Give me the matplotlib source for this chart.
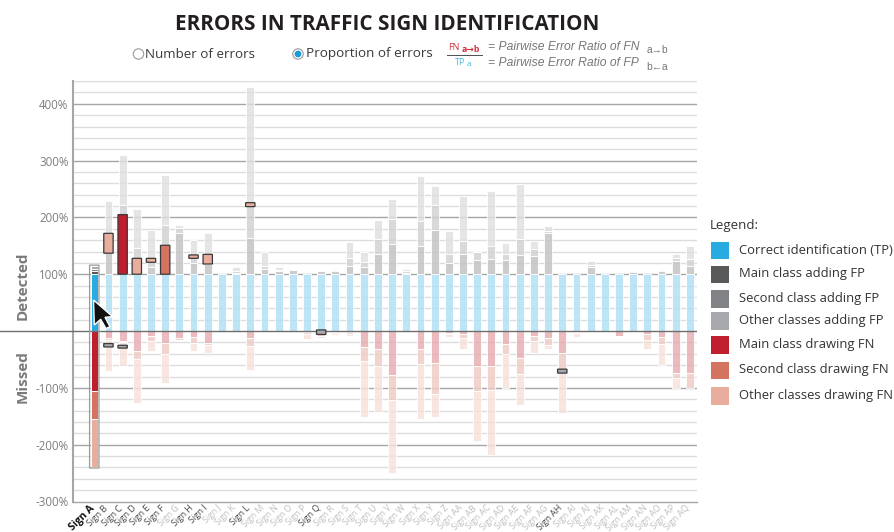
import string
import matplotlib
matplotlib.use("Agg")
import matplotlib.pyplot as plt
from matplotlib.colors import to_rgba
from matplotlib.patches import FancyBboxPatch, Polygon, Circle, Rectangle
from matplotlib.transforms import Affine2D

W, H = 894, 532
plt.rcParams['font.family'] = ['Open Sans', 'DejaVu Sans']

letters = list(string.ascii_uppercase)
signs = ["Sign " + c for c in letters] + ["Sign A" + c for c in letters[:17]]
highlighted = ["Sign A", "Sign B", "Sign C", "Sign D", "Sign E", "Sign F", "Sign H", "Sign I",
               "Sign L", "Sign Q", "Sign AH"]

tp = [100] * 43
# cumulative tops above 100% (main, second, other FP)
fp_main = [105,137,205,128,112,151,173,120,118,100,103,163,109,105,108,100,105,106,115,112,135,154,103,149,177,119,135,125,126,125,133,132,173,100,100,112,100,100,104,100,105,124,114]
fp_second = [110,172,222,147,128,186,181,134,135,100,105,226,115,108,109,100,105,108,129,122,162,197,106,193,221,136,159,139,150,135,162,145,176,100,100,116,100,100,104,100,107,128,126]
fp_other = [115,229,309,215,178,275,186,160,173,100,113,429,139,113,110,100,105,109,157,140,196,233,110,273,256,176,238,140,247,155,259,158,185,100,100,124,100,100,104,100,109,136,149]
# cumulative depths below 0%
fn_main = [105,12,18,35,8,21,12,11,21,2,0,12,0,1,1,1,3,2,2,28,32,77,2,32,56,4,6,62,61,22,48,8,12,38,2,0,0,8,0,6,11,73,74]
fn_second = [154,15,20,50,18,40,15,21,25,3,0,26,0,1,1,5,9,4,5,52,62,121,3,58,111,6,13,106,104,41,76,17,24,68,4,0,0,8,0,15,23,83,100]
fn_other = [240,71,61,126,35,92,18,35,38,4,1,69,0,2,2,14,13,7,9,152,142,250,4,155,152,11,31,193,219,101,130,39,32,145,11,0,0,9,0,31,60,100,100]

# highlighted pairwise ranges: sign index, low, high, colour key
box_sign = [1, 2, 3, 4, 5, 7, 8, 11, 1, 2, 16, 33]
box_low = [137, 100, 100, 121, 100, 128, 118, 219, -28, -30, -6, -74]
box_high = [172, 205, 128, 128, 151, 134, 135, 226, -22, -25, 2, -67]
box_kind = ["fn3", "fn1", "fn3", "fn3", "fn2", "fn3", "fn3", "fn3", "fp3", "fp3", "fp3", "fp3"]

yticks = [400, 300, 200, 100, -100, -200, -300]

legend_labels = ["Correct identification (TP)", "Main class adding FP", "Second class adding FP",
                 "Other classes adding FP", "Main class drawing FN", "Second class drawing FN",
                 "Other classes drawing FN"]
colors = {"tp": "#29ABE2", "fp1": "#58595B", "fp2": "#808285", "fp3": "#A7A9AC",
          "fn1": "#BE1E2D", "fn2": "#D4735F", "fn3": "#E8AD9C"}
legend_keys = ["tp", "fp1", "fp2", "fp3", "fn1", "fn2", "fn3"]

fig = plt.figure(figsize=(W / 100, H / 100), dpi=100, facecolor="white")
L, R, T, B = 73, 697, 80.5, 501.5
ax = fig.add_axes([L / W, 1 - B / H, (R - L) / W, (B - T) / H])
ax.set_xlim(-1.5, 42.5)
ax.set_ylim(-300, 441)
for s in ["top", "right"]:
    ax.spines[s].set_visible(False)
for s in ["left", "bottom"]:
    ax.spines[s].set_color("#a6a6a6")
    ax.spines[s].set_linewidth(1.5)
ax.spines["bottom"].set_linewidth(1.0)

for v in range(-280, 441, 20):
    if v == 0:
        continue
    major = v % 100 == 0
    ax.axhline(v, color="#a6a6a6" if major else "#dcdcdc", lw=1.0, zorder=1)


def stack(i, bottoms, tops, keys, w, alpha, lw):
    for b, t, k in zip(bottoms, tops, keys):
        if t == b:
            continue
        # white underlay keeps the grid only faintly visible through the pale bars
        ax.bar(i, t - b, bottom=b, width=w, facecolor=to_rgba("white", 0.75), edgecolor="none", zorder=2)
        ax.bar(i, t - b, bottom=b, width=w, facecolor=to_rgba(colors[k], alpha),
               edgecolor="white", linewidth=lw, zorder=2)


for i in range(len(signs)):
    a = i == 0
    w, al, lw = (0.5, 1.0, 0.7) if a else (0.55, 0.3, 0.6)
    stack(i, [0, tp[i], fp_main[i], fp_second[i]],
          [tp[i], fp_main[i], fp_second[i], fp_other[i]],
          ["tp", "fp1", "fp2", "fp3"], w, al, lw)
    stack(i, [0, -fn_main[i], -fn_second[i]],
          [-fn_main[i], -fn_second[i], -fn_other[i]],
          ["fn1", "fn2", "fn3"], w, al, lw)

# outline around the selected sign
ax.add_patch(FancyBboxPatch((-0.33, -fn_other[0] - 1), 0.66, fp_other[0] + fn_other[0] + 2,
                            boxstyle="round,pad=0,rounding_size=0.05", mutation_aspect=8,
                            fc="none", ec="#9a9a9a", lw=0.9, zorder=4))

for i, lo, hi, k in zip(box_sign, box_low, box_high, box_kind):
    ax.add_patch(FancyBboxPatch((i - 0.33, lo), 0.66, hi - lo,
                                boxstyle="round,pad=0,rounding_size=0.08", mutation_aspect=6,
                                fc=colors[k], ec="#3a3a3a", lw=0.9, zorder=5))

ax.axhline(0, color="#6e6e6e", lw=1.0, zorder=3)
ax.plot([-L / 14.18 - 1.5, -1.5], [0, 0], color="#6e6e6e", lw=1.0, clip_on=False, zorder=3)

ax.set_yticks(yticks)
ax.set_yticklabels([f"{v}%" for v in yticks], fontsize=8.3, color="#7d7d7d")
ax.tick_params(axis="y", length=0, pad=3.2)
ax.set_xticks(range(len(signs)))
ax.set_xticklabels([])
ax.tick_params(axis="x", length=0)
for i, s in enumerate(signs):
    on = s in highlighted
    ax.annotate(s, (i, 0), xycoords=("data", "axes fraction"), xytext=(-3.5, -1.5), textcoords="offset points",
                rotation=45, ha="right", va="top", rotation_mode="anchor",
                fontsize=7.4 if i == 0 else 6.3, fontweight="bold" if i == 0 else "normal",
                color="#111111" if i == 0 else ("#444444" if on else "#bdbdbd"))


def P(x, y):
    return x / W, 1 - y / H


fig.text(*P(387, 24.5), "ERRORS IN TRAFFIC SIGN IDENTIFICATION", ha="center", va="center",
         fontsize=14.85, fontweight="bold", color="#231F20")
fig.text(*P(23, 286), "Detected", rotation=90, ha="center", va="center", fontsize=11, fontweight="bold", color="#7a7a7a")
fig.text(*P(23, 377), "Missed", rotation=90, ha="center", va="center", fontsize=11, fontweight="bold", color="#7a7a7a")

fig.text(*P(145, 54), "Number of errors", ha="left", va="center", fontsize=9.65, color="#3a3a3a")
fig.text(*P(306, 54), "Proportion of errors", ha="left", va="center", fontsize=9.7, color="#3a3a3a")

px = Affine2D()
fig.add_artist(Circle((138.5, H - 54), 5.2, transform=px, fc="white", ec="#9a9a9a", lw=0.8))
fig.add_artist(Circle((298, H - 54), 5.2, transform=px, fc="white", ec="#9a9a9a", lw=0.8))
fig.add_artist(Circle((298, H - 54), 3.4, transform=px, fc="#1b9ad6", ec="none"))

fig.text(*P(448, 48), "FN", ha="left", va="center", fontsize=6.4, color="#d0313f")
fig.text(*P(461.5, 50), "a\u2192b", ha="left", va="center", fontsize=6.4, fontweight="bold", color="#d0313f")
fig.text(*P(455, 62.7), "TP", ha="left", va="center", fontsize=6.4, color="#4bb8e8")
fig.text(*P(467, 65), "a", ha="left", va="center", fontsize=6, color="#4bb8e8")
fig.add_artist(Rectangle((446.7, H - 56.2), 36, 0.9, transform=px, fc="#555555", ec="none"))
for y, t in [(46.5, "= Pairwise Error Ratio of FN"), (63.5, "= Pairwise Error Ratio of FP")]:
    fig.text(*P(488, y), t, ha="left", va="center", fontsize=8.7, style="italic",
             family=["Liberation Sans"], color="#777777")
fig.text(*P(647, 50), "a\u2192b", ha="left", va="center", fontsize=7.4, family=["Liberation Sans", "DejaVu Sans"], color="#777777")
fig.text(*P(646, 67.5), "b\u2190a", ha="left", va="center", fontsize=7.4, family=["Liberation Sans", "DejaVu Sans"], color="#777777")

fig.text(*P(710, 226), "Legend:", ha="left", va="center", fontsize=9.5, color="#333333")
ys = [250.5, 274.5, 299, 321, 345, 370.5, 396]
for lab, k, y in zip(legend_labels, legend_keys, ys):
    fig.add_artist(Rectangle((711, H - y - 8.5), 18, 17.5, transform=px, fc=colors[k], ec="none"))
    fig.text(*P(739, y - 0.5), lab, ha="left", va="center", fontsize=9.4, color="#333333")

cursor = [(93.5, 300), (94.3, 325), (100.7, 319.3), (106, 328.5), (110, 326.7), (105, 317.3), (112.7, 316.7)]
fig.add_artist(Polygon([(x, H - y) for x, y in cursor], closed=True, transform=px, fc="#111111", ec="white", lw=1.0, zorder=10))

fig.savefig("out.png", dpi=100)
